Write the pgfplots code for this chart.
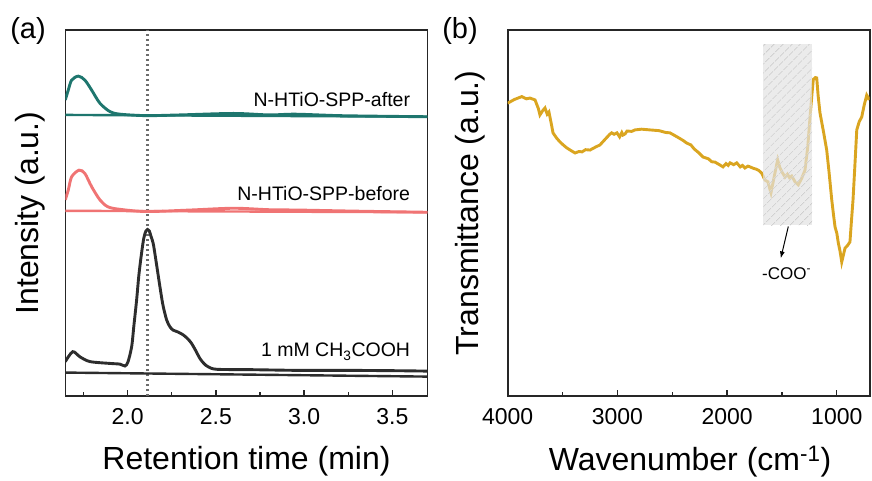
\documentclass[border=0pt]{standalone}
\usepackage{pgfplots}
\pgfplotsset{compat=1.18}
\usepackage{fontspec}
\setmainfont{Liberation Sans}
\usetikzlibrary{patterns.meta,arrows.meta}
\definecolor{tealc}{RGB}{30,118,110}
\definecolor{pinkc}{RGB}{240,116,116}
\definecolor{darkc}{RGB}{45,45,45}
\definecolor{goldc}{RGB}{218,165,32}

\pgfplotsset{
  panel/.style={
    scale only axis, width=362pt, height=366pt,
    ymin=0, ymax=100, ytick=\empty,
    axis line style={line width=1.6pt, black!85},
    tick style={line width=1.3pt, black!85},
    xtick pos=bottom, tick align=inside,
    major tick length=6pt, minor tick length=4pt,
    /pgf/number format/assume math mode=true,
    xticklabel style={font=\fontsize{23}{27}\selectfont, anchor=center, yshift=-20.7pt},
  },
}

\begin{document}
\begin{tikzpicture}
\useasboundingbox (0,0) rectangle (872pt,-481pt);

% (a) chromatograms
\begin{axis}[panel, at={(65.3pt,-30pt)}, anchor=north west,
    xmin=1.647, xmax=3.698,
    xtick={2.0,2.5,3.0,3.5}, minor xtick={1.75,2.25,2.75,3.25},
    xticklabel style={/pgf/number format/.cd, fixed, fixed zerofill, precision=1}]
  \draw[gray!85!black, line width=2.3pt, dash pattern=on 2.4pt off 2.6pt]
    (axis cs:2.113,0) -- (axis cs:2.113,100);

  % after
  \addplot[tealc, line width=2.9pt, smooth] coordinates {
    (1.647,80.9) (1.664,83.6) (1.683,86.3) (1.721,87.4) (1.758,86.3)
    (1.796,83.6) (1.843,80.0) (1.900,77.7) (1.957,77.0) (2.107,76.6)
    (2.300,76.8) (2.600,77.2) (2.800,76.8) (2.950,77.0) (3.200,76.6)
    (3.500,76.4) (3.698,76.3)};
  \addplot[tealc, line width=2.4pt] coordinates {(1.647,76.8) (3.698,76.3)};

  % before
  \addplot[pinkc, line width=2.9pt, smooth] coordinates {
    (1.647,53.6) (1.664,56.3) (1.683,59.9) (1.725,61.7) (1.758,60.8)
    (1.796,57.2) (1.843,53.6) (1.888,51.7) (1.957,51.0) (2.107,50.4)
    (2.350,50.8) (2.600,51.3) (2.800,50.9) (2.975,50.8) (3.300,50.5)
    (3.698,50.2)};
  \addplot[pinkc, line width=2.4pt] coordinates {(1.647,50.6) (3.698,50.2)};

  % 1 mM CH3COOH
  \addplot[darkc, line width=2.9pt, smooth] coordinates {
    (1.647,9.4) (1.689,12.1) (1.730,10.7) (1.787,9.4) (1.900,8.9)
    (1.957,8.7) (1.985,8.2) (2.002,9.3) (2.023,13.5) (2.036,19.4)
    (2.051,26.2) (2.064,33.1) (2.079,39.0) (2.092,43.2) (2.104,45.1)
    (2.113,45.5) (2.123,45.1) (2.132,43.7) (2.145,41.7) (2.160,37.2)
    (2.183,29.9) (2.200,24.9) (2.221,20.8) (2.240,18.9) (2.258,18.0)
    (2.285,17.5) (2.315,16.7) (2.341,15.6) (2.362,14.4) (2.387,12.3)
    (2.409,10.3) (2.432,8.9) (2.456,8.0) (2.504,7.3) (2.692,7.2)
    (2.975,7.0) (3.258,7.0) (3.541,6.9) (3.698,6.8)};
  \addplot[darkc, line width=2.4pt] coordinates {(1.647,6.4) (3.698,5.3)};

  \node[anchor=east, font=\fontsize{19.5}{23}\selectfont] at (axis cs:3.62,80.9) {N-HTiO-SPP-after};
  \node[anchor=east, font=\fontsize{19.5}{23}\selectfont] at (axis cs:3.62,55.2) {N-HTiO-SPP-before};
  \node[anchor=east, font=\fontsize{19.5}{23}\selectfont] at (axis cs:3.62,12.1) {1 mM CH\textsubscript{3}COOH};
\end{axis}

% (b) FTIR
\begin{axis}[panel, at={(507.7pt,-30pt)}, anchor=north west,
    x dir=reverse, xmin=700, xmax=4000,
    xtick={1000,2000,3000,4000}, minor xtick={1500,2500,3500},
    xticklabel style={/pgf/number format/1000 sep={}}]
  \addplot[goldc, line width=2.9pt] coordinates {
    (4000,80.0) (3940,81.0) (3872,81.8) (3830,81.2) (3797,81.4) (3751,80.9)
    (3720,78.5) (3706,76.8) (3680,78.0) (3660,78.7) (3640,77.0) (3624,77.6)
    (3600,74.0) (3587,71.9) (3555,70.5) (3523,69.4) (3490,68.5) (3462,67.8)
    (3420,67.0) (3386,66.4) (3350,66.8) (3323,66.7) (3290,67.3) (3250,67.2)
    (3200,68.0) (3159,68.6) (3110,70.2) (3070,71.5) (3052,71.9) (3030,71.5)
    (3004,71.9) (2980,70.8) (2960,72.0) (2949,71.3) (2930,71.6) (2912,72.4)
    (2870,72.3) (2840,72.7) (2780,72.9) (2703,72.7) (2620,72.5) (2560,72.0)
    (2521,71.9) (2450,70.7) (2400,69.8) (2368,69.1) (2330,68.6) (2300,67.5)
    (2260,66.5) (2220,65.3) (2170,64.8) (2140,64.0) (2110,63.9) (2070,63.2)
    (2037,62.6) (2010,63.5) (1990,63.0) (1973,63.7) (1940,63.2) (1912,63.7)
    (1880,62.6) (1860,63.0) (1837,62.3) (1810,62.8) (1791,62.6) (1760,62.2)
    (1737,62.0) (1710,61.6) (1685,60.9) (1655,59.0) (1627,58.5) (1610,56.5)
    (1600,55.5) (1580,58.5) (1560,61.5) (1539,64.5) (1520,62.5) (1500,61.2)
    (1485,60.5) (1472,59.8) (1450,60.6) (1430,59.6) (1411,60.1) (1380,58.5)
    (1351,57.7) (1320,59.5) (1290,61.7) (1265,68.0) (1244,76.2) (1225,83.0)
    (1214,86.5) (1195,87.0) (1183,86.9) (1170,82.0) (1153,77.3) (1120,72.0)
    (1092,67.2) (1070,61.0) (1046,53.6) (1030,49.5) (1016,46.2) (1000,44.5)
    (986,41.8) (970,39.5) (955,36.6) (940,38.5) (925,40.4) (900,41.2)
    (880,42.1) (866,48.0) (852,53.6) (835,63.0) (818,72.7) (795,75.0)
    (773,76.2) (750,79.5) (727,82.2) (715,81.6) (704,80.9)};
  \fill[gray!22, opacity=0.7] (axis cs:1670,46.7) rectangle (axis cs:1225,96.1);
  \fill[pattern={Lines[angle=45, distance=6.5pt, line width=0.8pt]}, pattern color=gray!40]
    (axis cs:1670,46.7) rectangle (axis cs:1225,96.1);
  \draw[-{Latex[length=7pt,width=5pt]}, line width=1pt] (axis cs:1442,46.3) -- (axis cs:1511,37.6);
  \node[font=\fontsize{17}{20}\selectfont] at (axis cs:1457,33.5) {-COO\textsuperscript{-}};
\end{axis}

% panel letters and axis titles
\node[font=\fontsize{29}{34}\selectfont] at (28pt,-31pt) {(a)};
\node[font=\fontsize{29}{34}\selectfont] at (460pt,-31pt) {(b)};
\node[font=\fontsize{32}{38}\selectfont, rotate=90] at (30pt,-213pt) {Intensity (a.u.)};
\node[font=\fontsize{32}{38}\selectfont, rotate=90] at (470pt,-213pt) {Transmittance (a.u.)};
\node[font=\fontsize{32}{38}\selectfont] at (246.5pt,-461.7pt) {Retention time (min)};
\node[font=\fontsize{32}{38}\selectfont] at (690pt,-461.7pt) {Wavenumber (cm\textsuperscript{-1})};
\end{tikzpicture}
\end{document}
